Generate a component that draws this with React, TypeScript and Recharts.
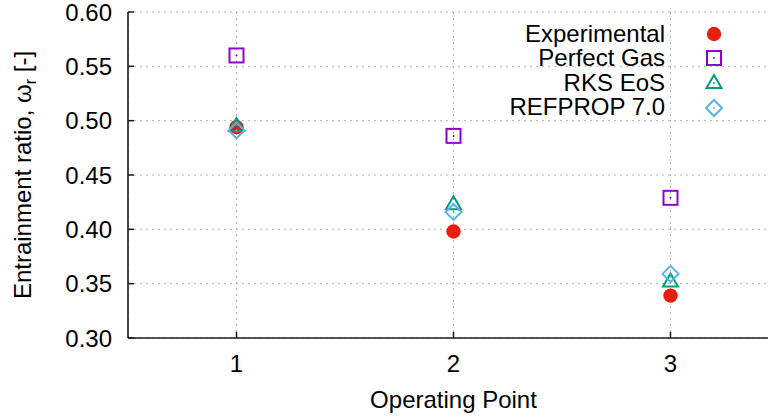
import {
  ScatterChart,
  Scatter,
  XAxis,
  YAxis,
  CartesianGrid,
  Legend,
} from 'recharts';

const operatingPoints = [1, 2, 3];
const experimental = [0.494, 0.398, 0.339];
const perfectGas = [0.56, 0.486, 0.429];
const rksEos = [0.495, 0.423, 0.352];
const refprop = [0.491, 0.416, 0.359];

const xTicks = [1, 2, 3];
const yTicks = [0.3, 0.35, 0.4, 0.45, 0.5, 0.55, 0.6];

const FONT = '"Liberation Sans", Arial, Helvetica, sans-serif';
const TICK_MARGIN = 10;
const AXIS_COLOR = '#1a1a1a';

const toPoints = (values: number[]) =>
  operatingPoints.map((x, i) => ({ x, y: values[i] }));

const COLORS = {
  exp: '#e51e10',
  gas: '#9400d3',
  rks: '#009e73',
  ref: '#56b4e9',
};

const Circle = ({ cx, cy }: any) => (
  <circle cx={cx} cy={cy} r={7.2} fill={COLORS.exp} />
);

const Square = ({ cx, cy }: any) => (
  <g>
    <rect x={cx - 7} y={cy - 7} width={14} height={14} fill="none" stroke={COLORS.gas} strokeWidth={2} />
    <circle cx={cx} cy={cy} r={1} fill={COLORS.gas} />
  </g>
);

const Triangle = ({ cx, cy }: any) => (
  <g>
    <path
      d={`M${cx},${cy - 8} L${cx + 7.5},${cy + 5} L${cx - 7.5},${cy + 5} Z`}
      fill="none"
      stroke={COLORS.rks}
      strokeWidth={2}
    />
    <circle cx={cx} cy={cy} r={1} fill={COLORS.rks} />
  </g>
);

const Diamond = ({ cx, cy }: any) => (
  <g>
    <path
      d={`M${cx},${cy - 8} L${cx + 8},${cy} L${cx},${cy + 8} L${cx - 8},${cy} Z`}
      fill="none"
      stroke={COLORS.ref}
      strokeWidth={2}
    />
    <circle cx={cx} cy={cy} r={1} fill={COLORS.ref} />
  </g>
);

const legendItems = [
  { name: 'Experimental', Shape: Circle },
  { name: 'Perfect Gas', Shape: Square },
  { name: 'RKS EoS', Shape: Triangle },
  { name: 'REFPROP 7.0', Shape: Diamond },
];

const XTick = ({ x, y, payload }: any) => {
  const axisY = y - TICK_MARGIN;
  return (
    <g>
      <line x1={x} x2={x} y1={axisY} y2={axisY - 6} stroke={AXIS_COLOR} strokeWidth={1.5} />
      <text x={x} y={axisY + 34} textAnchor="middle" fontSize={24} fontFamily={FONT} fill="#000">
        {payload.value}
      </text>
    </g>
  );
};

const YTick = ({ x, y, payload }: any) => {
  const axisX = x + TICK_MARGIN;
  return (
    <g>
      <line x1={axisX} x2={axisX + 6} y1={y} y2={y} stroke={AXIS_COLOR} strokeWidth={1.5} />
      <text x={axisX - 16} y={y + 8.8} textAnchor="end" fontSize={24} fontFamily={FONT} fill="#000">
        {Number(payload.value).toFixed(2)}
      </text>
    </g>
  );
};

const YLabel = ({ viewBox }: any) => {
  const cy = viewBox.y + viewBox.height / 2;
  const lx = 31;
  return (
    <text
      x={lx}
      y={cy}
      transform={`rotate(-90 ${lx} ${cy})`}
      textAnchor="middle"
      fontSize={24}
      fontFamily={FONT}
      fill="#000"
    >
      Entrainment ratio, ω
      <tspan fontSize={16} dy={5}>r</tspan>
      <tspan dy={-5}> [-]</tspan>
    </text>
  );
};

const XLabel = ({ viewBox }: any) => (
  <text
    x={viewBox.x + viewBox.width / 2}
    y={408}
    textAnchor="middle"
    fontSize={24}
    fontFamily={FONT}
    fill="#000"
  >
    Operating Point
  </text>
);

const LegendBox = () => (
  <div style={{ fontFamily: FONT, fontSize: 24, color: '#000' }}>
    {legendItems.map(({ name, Shape }) => (
      <div key={name} style={{ display: 'flex', alignItems: 'center', height: 24.6 }}>
        <span style={{ width: 185, textAlign: 'right', lineHeight: '24.6px', whiteSpace: 'nowrap' }}>
          {name}
        </span>
        <svg width={20} height={20} style={{ marginLeft: 39 }}>
          <Shape cx={10} cy={10} />
        </svg>
      </div>
    ))}
  </div>
);

export default function App() {
  return (
    <div
      style={{
        position: 'fixed',
        left: 0,
        top: 0,
        width: 768,
        height: 417,
        overflow: 'hidden',
        background: '#fff',
      }}
    >
      <ScatterChart
        width={800}
        height={417}
        margin={{ top: 12, right: 21, left: 0, bottom: 18 }}
      >
        <CartesianGrid stroke="#b4b4b4" strokeDasharray="2 4" />
        <XAxis
          type="number"
          dataKey="x"
          domain={[0.5, 3.5]}
          ticks={xTicks}
          height={61}
          stroke={AXIS_COLOR}
          strokeWidth={1.6}
          tickLine={false}
          tickSize={0}
          tickMargin={TICK_MARGIN}
          tick={<XTick />}
          label={<XLabel />}
        />
        <XAxis
          xAxisId="top"
          orientation="top"
          type="number"
          domain={[0.5, 3.5]}
          ticks={xTicks}
          height={0}
          stroke={AXIS_COLOR}
          strokeWidth={1.6}
          mirror
          tickSize={6}
          tick={false}
        />
        <YAxis
          type="number"
          dataKey="y"
          domain={[0.3, 0.6]}
          ticks={yTicks}
          width={128}
          stroke={AXIS_COLOR}
          strokeWidth={1.6}
          tickLine={false}
          tickSize={0}
          tickMargin={TICK_MARGIN}
          tick={<YTick />}
          label={<YLabel />}
        />
        <Legend
          layout="vertical"
          align="center"
          verticalAlign="middle"
          wrapperStyle={{ top: 21.5, left: 480, width: 260 }}
          content={<LegendBox />}
        />
        <Scatter name="Experimental" data={toPoints(experimental)} shape={<Circle />} isAnimationActive={false} />
        <Scatter name="Perfect Gas" data={toPoints(perfectGas)} shape={<Square />} isAnimationActive={false} />
        <Scatter name="RKS EoS" data={toPoints(rksEos)} shape={<Triangle />} isAnimationActive={false} />
        <Scatter name="REFPROP 7.0" data={toPoints(refprop)} shape={<Diamond />} isAnimationActive={false} />
      </ScatterChart>
    </div>
  );
}
